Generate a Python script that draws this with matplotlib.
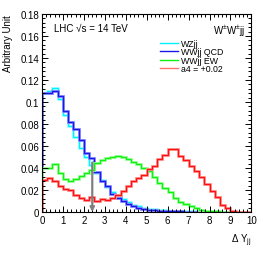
import numpy as np
import matplotlib
matplotlib.use("Agg")
import matplotlib.pyplot as plt
from matplotlib.lines import Line2D
from matplotlib.ticker import MultipleLocator, FormatStrFormatter

plt.rcParams["font.family"] = ["Liberation Sans", "DejaVu Sans"]
plt.rcParams["mathtext.fontset"] = "custom"
plt.rcParams["mathtext.rm"] = "Liberation Sans"
plt.rcParams["mathtext.it"] = "Liberation Sans"

# bin edges of delta Y_jj, 0.25 wide
edges = np.arange(0, 10.25, 0.25)

# WZjj
wz = [0.108, 0.110, 0.113, 0.1025, 0.088, 0.0785, 0.068, 0.0585, 0.050, 0.0424,
      0.035, 0.029, 0.0227, 0.018, 0.015, 0.012, 0.009, 0.0066, 0.005, 0.004,
      0.003, 0.0025, 0.002, 0.0015, 0.0012, 0.001, 0.0008, 0.0006, 0.0005, 0.0004,
      0.0003, 0.0002, 0.0002, 0.0001, 0.0001, 0.0001, 0.0001, 0.0, 0.0, 0.0]
# WWjj QCD
qcd = [0.108, 0.108, 0.110, 0.105, 0.0915, 0.082, 0.0755, 0.065, 0.054, 0.0488,
       0.0367, 0.0285, 0.0236, 0.0166, 0.0124, 0.010, 0.0075, 0.005, 0.004, 0.003,
       0.0022, 0.0016, 0.0012, 0.0009, 0.0007, 0.0005, 0.0004, 0.0003, 0.0002, 0.0002,
       0.0001, 0.0001, 0.0001, 0.0001, 0.0, 0.0, 0.0, 0.0, 0.0, 0.0]
# WWjj EW
ew = [0.0397, 0.0397, 0.0435, 0.0355, 0.0302, 0.028, 0.030, 0.0324, 0.035, 0.0385,
      0.0442, 0.047, 0.0488, 0.050, 0.0505, 0.0503, 0.0485, 0.0455, 0.0435, 0.040,
      0.037, 0.0315, 0.026, 0.022, 0.018, 0.0127, 0.0092, 0.0073, 0.0057, 0.0036,
      0.0019, 0.001, 0.0006, 0.0004, 0.0002, 0.0001, 0.0001, 0.0, 0.0, 0.0]
# a4 = +0.02
a4 = [0.0294, 0.0306, 0.0285, 0.0235, 0.021, 0.0195, 0.0155, 0.0124, 0.0109, 0.0133,
      0.010, 0.0115, 0.0112, 0.0125, 0.015, 0.019, 0.024, 0.028, 0.031, 0.034,
      0.039, 0.042, 0.048, 0.0515, 0.0575, 0.0575, 0.0512, 0.0473, 0.042, 0.037,
      0.032, 0.0255, 0.0194, 0.0133, 0.0067, 0.0036, 0.0012, 0.0003, 0.0001, 0.0]

cut_x = 2.4
cut_top = 0.045

fig = plt.figure(figsize=(2.66, 2.55), dpi=100)
ax = fig.add_axes([0.158, 0.165, 0.787, 0.776])

# (core colour, halo colour)
series = [
    (wz, "#00f0ff", "#a0ffff", "WZjj"),
    (qcd, "#1818e8", "#8888ff", "WWjj QCD"),
    (ew, "#10f010", "#99ff99", "WWjj EW"),
    (a4, "#ff1010", "#ff9090", "a4 = +0.02"),
]
for vals, core, halo, _ in series:
    ax.stairs(vals, edges, color=halo, lw=2.0)
    ax.stairs(vals, edges, color=core, lw=0.9)

ax.annotate("", xy=(cut_x, 0.0), xytext=(cut_x, cut_top),
            arrowprops=dict(arrowstyle="-|>", lw=1.6, ec="#808080", fc="black",
                            mutation_scale=6, shrinkA=0, shrinkB=0))

ax.set_xlim(0, 10)
ax.set_ylim(0, 0.18)
ax.xaxis.set_major_locator(MultipleLocator(1))
ax.xaxis.set_minor_locator(MultipleLocator(0.2))
ax.yaxis.set_major_locator(MultipleLocator(0.02))
ax.yaxis.set_minor_locator(MultipleLocator(0.004))
ax.yaxis.set_major_formatter(FormatStrFormatter("%g"))
ax.tick_params(which="both", direction="in", top=True, right=True,
               labelsize=7, width=0.7, pad=2)
ax.tick_params(which="major", length=4)
ax.tick_params(which="minor", length=2)
for s in ax.spines.values():
    s.set_linewidth(0.8)

ax.set_ylabel("Arbitrary Unit", fontsize=7, loc="top", labelpad=5)
ax.set_xlabel("Δ Y$_{\\rm jj}$", fontsize=7, loc="right", labelpad=5)

ax.text(0.055, 0.93, "LHC √s = 14 TeV", transform=ax.transAxes,
        fontsize=7, va="center", ha="left")
ax.text(0.97, 0.915, "W$^{\\pm}$W$^{\\pm}$jj", transform=ax.transAxes,
        fontsize=7, va="center", ha="right")

# legend
handles = [Line2D([], [], color=c, lw=1.0) for _, c, _, _ in series]
handles[3] = Line2D([], [], color="#ff7070", lw=1.0)
labels = [lab for _, _, _, lab in series]
ax.legend(handles, labels, loc="upper left", bbox_to_anchor=(0.565, 0.875),
          frameon=False, fontsize=6.3, handlelength=2.0, handletextpad=0.4,
          labelspacing=-0.05, borderpad=0, borderaxespad=0)

fig.savefig("out.png", dpi=100)
